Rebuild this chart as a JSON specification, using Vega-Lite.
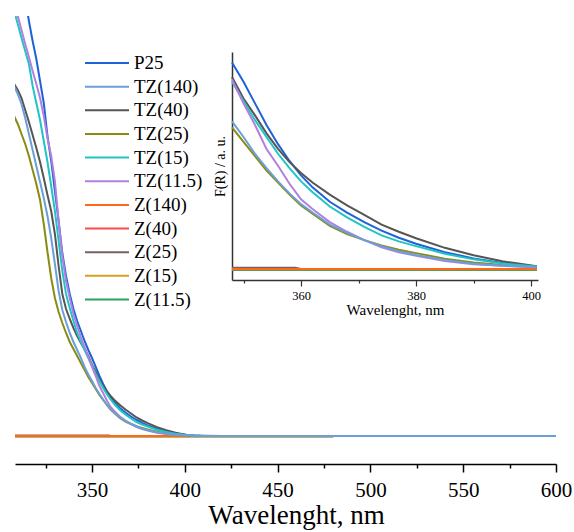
{
"$schema": "https://vega.github.io/schema/vega-lite/v6.json",
"width": 541, "height": 448,
"autosize": {"type": "none"},
"padding": {"left": 15, "top": 16, "right": 18, "bottom": 68},
"config": {
  "font": "Liberation Serif",
  "view": {"stroke": null},
  "axis": {"grid": false, "domainColor": "#000", "tickColor": "#000", "labelColor": "#000", "titleColor": "#000", "labelFont": "Liberation Serif", "titleFont": "Liberation Serif", "titleFontWeight": "normal"},
  "legend": {"labelFont": "Liberation Serif"}
},
"datasets": {"d": [
{"s":"Z(40)","wl":308,"v":-0.003},{"s":"Z(40)","wl":348,"v":-0.003},{"s":"Z(40)","wl":401,"v":-0.003},{"s":"Z(40)","wl":480,"v":-0.003},
{"s":"Z(25)","wl":308,"v":0.006},{"s":"Z(25)","wl":348,"v":0.005},{"s":"Z(25)","wl":359,"v":0.005},{"s":"Z(25)","wl":360,"v":0},{"s":"Z(25)","wl":401,"v":0},{"s":"Z(25)","wl":480,"v":0},
{"s":"Z(15)","wl":308,"v":-0.004},{"s":"Z(15)","wl":348,"v":-0.004},{"s":"Z(15)","wl":401,"v":-0.004},{"s":"Z(15)","wl":480,"v":-0.004},
{"s":"Z(11.5)","wl":308,"v":-0.003},{"s":"Z(11.5)","wl":348,"v":-0.003},{"s":"Z(11.5)","wl":401,"v":-0.003},{"s":"Z(11.5)","wl":480,"v":-0.003},
{"s":"Z(140)","wl":308,"v":0},{"s":"Z(140)","wl":348,"v":0},{"s":"Z(140)","wl":401,"v":0},{"s":"Z(140)","wl":480,"v":0},
{"s":"P25","wl":308,"v":5.1},{"s":"P25","wl":310,"v":4.85},{"s":"P25","wl":312,"v":4.6},{"s":"P25","wl":314,"v":4.37},{"s":"P25","wl":316,"v":4.15},{"s":"P25","wl":318,"v":3.95},{"s":"P25","wl":320,"v":3.77},{"s":"P25","wl":322,"v":3.55},{"s":"P25","wl":324,"v":3.33},{"s":"P25","wl":326,"v":3.0},{"s":"P25","wl":328,"v":2.75},{"s":"P25","wl":330,"v":2.45},{"s":"P25","wl":332,"v":2.15},{"s":"P25","wl":334,"v":1.83},{"s":"P25","wl":336,"v":1.6},{"s":"P25","wl":338,"v":1.42},{"s":"P25","wl":340,"v":1.27},{"s":"P25","wl":342,"v":1.15},{"s":"P25","wl":344,"v":1.05},{"s":"P25","wl":346,"v":0.95},{"s":"P25","wl":348,"v":0.86},{"s":"P25","wl":350,"v":0.78},{"s":"P25","wl":352,"v":0.69},{"s":"P25","wl":354,"v":0.6},{"s":"P25","wl":356,"v":0.52},{"s":"P25","wl":358,"v":0.45},{"s":"P25","wl":360,"v":0.39},{"s":"P25","wl":362,"v":0.34},{"s":"P25","wl":365,"v":0.28},{"s":"P25","wl":368,"v":0.235},{"s":"P25","wl":371,"v":0.195},{"s":"P25","wl":374,"v":0.16},{"s":"P25","wl":377,"v":0.13},{"s":"P25","wl":380,"v":0.105},{"s":"P25","wl":385,"v":0.07},{"s":"P25","wl":390,"v":0.044},{"s":"P25","wl":395,"v":0.025},{"s":"P25","wl":401,"v":0.009},{"s":"P25","wl":405,"v":0.004},{"s":"P25","wl":410,"v":0.001},{"s":"P25","wl":420,"v":0},{"s":"P25","wl":450,"v":0},
{"s":"TZ(40)","wl":308,"v":3.52},{"s":"TZ(40)","wl":310,"v":3.46},{"s":"TZ(40)","wl":312,"v":3.38},{"s":"TZ(40)","wl":314,"v":3.26},{"s":"TZ(40)","wl":316,"v":3.14},{"s":"TZ(40)","wl":318,"v":3.01},{"s":"TZ(40)","wl":320,"v":2.88},{"s":"TZ(40)","wl":322,"v":2.74},{"s":"TZ(40)","wl":324,"v":2.58},{"s":"TZ(40)","wl":326,"v":2.41},{"s":"TZ(40)","wl":328,"v":2.25},{"s":"TZ(40)","wl":330,"v":2.02},{"s":"TZ(40)","wl":332,"v":1.7},{"s":"TZ(40)","wl":334,"v":1.42},{"s":"TZ(40)","wl":336,"v":1.27},{"s":"TZ(40)","wl":338,"v":1.17},{"s":"TZ(40)","wl":340,"v":1.08},{"s":"TZ(40)","wl":342,"v":1.0},{"s":"TZ(40)","wl":344,"v":0.93},{"s":"TZ(40)","wl":346,"v":0.87},{"s":"TZ(40)","wl":348,"v":0.8},{"s":"TZ(40)","wl":350,"v":0.71},{"s":"TZ(40)","wl":352,"v":0.64},{"s":"TZ(40)","wl":354,"v":0.565},{"s":"TZ(40)","wl":356,"v":0.5},{"s":"TZ(40)","wl":358,"v":0.445},{"s":"TZ(40)","wl":360,"v":0.4},{"s":"TZ(40)","wl":362,"v":0.36},{"s":"TZ(40)","wl":365,"v":0.31},{"s":"TZ(40)","wl":368,"v":0.265},{"s":"TZ(40)","wl":371,"v":0.225},{"s":"TZ(40)","wl":374,"v":0.185},{"s":"TZ(40)","wl":377,"v":0.155},{"s":"TZ(40)","wl":380,"v":0.128},{"s":"TZ(40)","wl":385,"v":0.088},{"s":"TZ(40)","wl":390,"v":0.057},{"s":"TZ(40)","wl":395,"v":0.032},{"s":"TZ(40)","wl":401,"v":0.011},{"s":"TZ(40)","wl":405,"v":0.005},{"s":"TZ(40)","wl":410,"v":0.002},{"s":"TZ(40)","wl":420,"v":0},{"s":"TZ(40)","wl":450,"v":0},
{"s":"TZ(25)","wl":308,"v":3.2},{"s":"TZ(25)","wl":310,"v":3.12},{"s":"TZ(25)","wl":312,"v":3.02},{"s":"TZ(25)","wl":314,"v":2.92},{"s":"TZ(25)","wl":316,"v":2.8},{"s":"TZ(25)","wl":318,"v":2.66},{"s":"TZ(25)","wl":320,"v":2.52},{"s":"TZ(25)","wl":322,"v":2.36},{"s":"TZ(25)","wl":324,"v":2.12},{"s":"TZ(25)","wl":326,"v":1.84},{"s":"TZ(25)","wl":328,"v":1.58},{"s":"TZ(25)","wl":330,"v":1.38},{"s":"TZ(25)","wl":332,"v":1.24},{"s":"TZ(25)","wl":334,"v":1.13},{"s":"TZ(25)","wl":336,"v":1.03},{"s":"TZ(25)","wl":338,"v":0.94},{"s":"TZ(25)","wl":340,"v":0.87},{"s":"TZ(25)","wl":342,"v":0.8},{"s":"TZ(25)","wl":344,"v":0.73},{"s":"TZ(25)","wl":346,"v":0.66},{"s":"TZ(25)","wl":348,"v":0.59},{"s":"TZ(25)","wl":350,"v":0.53},{"s":"TZ(25)","wl":352,"v":0.47},{"s":"TZ(25)","wl":354,"v":0.41},{"s":"TZ(25)","wl":356,"v":0.36},{"s":"TZ(25)","wl":358,"v":0.31},{"s":"TZ(25)","wl":360,"v":0.265},{"s":"TZ(25)","wl":362,"v":0.23},{"s":"TZ(25)","wl":365,"v":0.18},{"s":"TZ(25)","wl":368,"v":0.145},{"s":"TZ(25)","wl":371,"v":0.12},{"s":"TZ(25)","wl":374,"v":0.098},{"s":"TZ(25)","wl":377,"v":0.08},{"s":"TZ(25)","wl":380,"v":0.066},{"s":"TZ(25)","wl":385,"v":0.043},{"s":"TZ(25)","wl":390,"v":0.027},{"s":"TZ(25)","wl":395,"v":0.016},{"s":"TZ(25)","wl":401,"v":0.008},{"s":"TZ(25)","wl":405,"v":0.003},{"s":"TZ(25)","wl":410,"v":0.001},{"s":"TZ(25)","wl":420,"v":0},{"s":"TZ(25)","wl":450,"v":0},
{"s":"TZ(15)","wl":308,"v":4.25},{"s":"TZ(15)","wl":310,"v":4.12},{"s":"TZ(15)","wl":312,"v":3.98},{"s":"TZ(15)","wl":314,"v":3.85},{"s":"TZ(15)","wl":316,"v":3.72},{"s":"TZ(15)","wl":318,"v":3.5},{"s":"TZ(15)","wl":320,"v":3.33},{"s":"TZ(15)","wl":322,"v":3.16},{"s":"TZ(15)","wl":324,"v":2.95},{"s":"TZ(15)","wl":326,"v":2.74},{"s":"TZ(15)","wl":328,"v":2.5},{"s":"TZ(15)","wl":330,"v":2.25},{"s":"TZ(15)","wl":332,"v":1.95},{"s":"TZ(15)","wl":334,"v":1.65},{"s":"TZ(15)","wl":336,"v":1.42},{"s":"TZ(15)","wl":338,"v":1.28},{"s":"TZ(15)","wl":340,"v":1.15},{"s":"TZ(15)","wl":342,"v":1.03},{"s":"TZ(15)","wl":344,"v":0.94},{"s":"TZ(15)","wl":346,"v":0.86},{"s":"TZ(15)","wl":348,"v":0.78},{"s":"TZ(15)","wl":350,"v":0.7},{"s":"TZ(15)","wl":352,"v":0.62},{"s":"TZ(15)","wl":354,"v":0.55},{"s":"TZ(15)","wl":356,"v":0.48},{"s":"TZ(15)","wl":358,"v":0.42},{"s":"TZ(15)","wl":360,"v":0.365},{"s":"TZ(15)","wl":362,"v":0.32},{"s":"TZ(15)","wl":365,"v":0.26},{"s":"TZ(15)","wl":368,"v":0.215},{"s":"TZ(15)","wl":371,"v":0.175},{"s":"TZ(15)","wl":374,"v":0.14},{"s":"TZ(15)","wl":377,"v":0.115},{"s":"TZ(15)","wl":380,"v":0.095},{"s":"TZ(15)","wl":385,"v":0.063},{"s":"TZ(15)","wl":390,"v":0.04},{"s":"TZ(15)","wl":395,"v":0.023},{"s":"TZ(15)","wl":401,"v":0.01},{"s":"TZ(15)","wl":405,"v":0.004},{"s":"TZ(15)","wl":410,"v":0.001},{"s":"TZ(15)","wl":420,"v":0},{"s":"TZ(15)","wl":550,"v":0},
{"s":"TZ(11.5)","wl":308,"v":4.45},{"s":"TZ(11.5)","wl":310,"v":4.2},{"s":"TZ(11.5)","wl":312,"v":4.06},{"s":"TZ(11.5)","wl":314,"v":3.92},{"s":"TZ(11.5)","wl":316,"v":3.79},{"s":"TZ(11.5)","wl":318,"v":3.65},{"s":"TZ(11.5)","wl":320,"v":3.52},{"s":"TZ(11.5)","wl":322,"v":3.38},{"s":"TZ(11.5)","wl":324,"v":3.2},{"s":"TZ(11.5)","wl":326,"v":2.98},{"s":"TZ(11.5)","wl":328,"v":2.8},{"s":"TZ(11.5)","wl":330,"v":2.55},{"s":"TZ(11.5)","wl":332,"v":2.15},{"s":"TZ(11.5)","wl":334,"v":1.8},{"s":"TZ(11.5)","wl":336,"v":1.55},{"s":"TZ(11.5)","wl":338,"v":1.38},{"s":"TZ(11.5)","wl":340,"v":1.22},{"s":"TZ(11.5)","wl":342,"v":1.1},{"s":"TZ(11.5)","wl":344,"v":0.99},{"s":"TZ(11.5)","wl":346,"v":0.89},{"s":"TZ(11.5)","wl":348,"v":0.79},{"s":"TZ(11.5)","wl":350,"v":0.69},{"s":"TZ(11.5)","wl":352,"v":0.6},{"s":"TZ(11.5)","wl":354,"v":0.5},{"s":"TZ(11.5)","wl":356,"v":0.43},{"s":"TZ(11.5)","wl":358,"v":0.355},{"s":"TZ(11.5)","wl":360,"v":0.29},{"s":"TZ(11.5)","wl":362,"v":0.25},{"s":"TZ(11.5)","wl":365,"v":0.195},{"s":"TZ(11.5)","wl":368,"v":0.155},{"s":"TZ(11.5)","wl":371,"v":0.12},{"s":"TZ(11.5)","wl":374,"v":0.09},{"s":"TZ(11.5)","wl":377,"v":0.07},{"s":"TZ(11.5)","wl":380,"v":0.055},{"s":"TZ(11.5)","wl":385,"v":0.033},{"s":"TZ(11.5)","wl":390,"v":0.02},{"s":"TZ(11.5)","wl":395,"v":0.013},{"s":"TZ(11.5)","wl":401,"v":0.007},{"s":"TZ(11.5)","wl":405,"v":0.003},{"s":"TZ(11.5)","wl":410,"v":0.001},{"s":"TZ(11.5)","wl":420,"v":0},{"s":"TZ(11.5)","wl":550,"v":0},
{"s":"TZ(140)","wl":308,"v":3.5},{"s":"TZ(140)","wl":310,"v":3.42},{"s":"TZ(140)","wl":312,"v":3.32},{"s":"TZ(140)","wl":314,"v":3.18},{"s":"TZ(140)","wl":316,"v":3.02},{"s":"TZ(140)","wl":318,"v":2.86},{"s":"TZ(140)","wl":320,"v":2.7},{"s":"TZ(140)","wl":322,"v":2.54},{"s":"TZ(140)","wl":324,"v":2.38},{"s":"TZ(140)","wl":326,"v":2.2},{"s":"TZ(140)","wl":328,"v":1.98},{"s":"TZ(140)","wl":330,"v":1.72},{"s":"TZ(140)","wl":332,"v":1.45},{"s":"TZ(140)","wl":334,"v":1.26},{"s":"TZ(140)","wl":336,"v":1.14},{"s":"TZ(140)","wl":338,"v":1.03},{"s":"TZ(140)","wl":340,"v":0.94},{"s":"TZ(140)","wl":342,"v":0.86},{"s":"TZ(140)","wl":344,"v":0.78},{"s":"TZ(140)","wl":346,"v":0.69},{"s":"TZ(140)","wl":348,"v":0.615},{"s":"TZ(140)","wl":350,"v":0.55},{"s":"TZ(140)","wl":352,"v":0.48},{"s":"TZ(140)","wl":354,"v":0.42},{"s":"TZ(140)","wl":356,"v":0.365},{"s":"TZ(140)","wl":358,"v":0.315},{"s":"TZ(140)","wl":360,"v":0.27},{"s":"TZ(140)","wl":362,"v":0.235},{"s":"TZ(140)","wl":365,"v":0.185},{"s":"TZ(140)","wl":368,"v":0.15},{"s":"TZ(140)","wl":371,"v":0.12},{"s":"TZ(140)","wl":374,"v":0.095},{"s":"TZ(140)","wl":377,"v":0.074},{"s":"TZ(140)","wl":380,"v":0.058},{"s":"TZ(140)","wl":385,"v":0.037},{"s":"TZ(140)","wl":390,"v":0.022},{"s":"TZ(140)","wl":395,"v":0.013},{"s":"TZ(140)","wl":401,"v":0.007},{"s":"TZ(140)","wl":405,"v":0.003},{"s":"TZ(140)","wl":410,"v":0.001},{"s":"TZ(140)","wl":420,"v":0},{"s":"TZ(140)","wl":600,"v":0}
]},
"layer": [
  {
    "data": {"name": "d"},
    "encoding": {
      "x": {"field": "wl", "type": "quantitative",
        "scale": {"domain": [308.5, 600], "nice": false, "zero": false},
        "axis": {"orient": "bottom", "values": [300,325,350,375,400,425,450,475,500,525,550,575,600],
          "labelExpr": "datum.value % 50 === 0 ? datum.label : ''",
          "tickSize": {"condition": {"test": "datum.value % 50 === 0", "value": 8}, "value": 4},
          "labelFont": "Liberation Serif", "titleFont": "Liberation Serif",
          "labelFontSize": 21, "labelPadding": 7, "labelFlush": false, "labelOverlap": false, "labelBound": false,
          "title": "Wavelenght, nm", "titleFontSize": 27, "titlePadding": 2, "titleX": 281,
          "domainWidth": 1.5, "tickWidth": 1.5}},
      "y": {"field": "v", "type": "quantitative", "scale": {"domain": [-0.28, 4.2], "nice": false, "zero": false}, "axis": null},
      "color": {"field": "s", "type": "nominal",
        "scale": {"domain": ["P25","TZ(140)","TZ(40)","TZ(25)","TZ(15)","TZ(11.5)","Z(140)","Z(40)","Z(25)","Z(15)","Z(11.5)"],
                  "range": ["#1f62d8","#6a9fd8","#555555","#8b8b14","#20c4c4","#b27fe0","#ff6818","#ff4a4a","#7a6060","#d4a020","#2ea060"]},
        "legend": {"orient": "none", "legendX": 69, "legendY": 37, "title": null, "symbolType": "stroke", "symbolSize": 1936, "symbolStrokeWidth": 2,
          "clipHeight": 20, "rowPadding": 3.65, "labelFontSize": 19, "labelFont": "Liberation Serif", "labelColor": "#000", "labelOffset": 4}}
    },
    "layer": [
      {"transform": [{"filter": "indexof(datum.s, 'Z(') === 0"}], "mark": {"type": "line", "clip": true, "strokeWidth": 2}},
      {"transform": [{"filter": "indexof(datum.s, 'Z(') !== 0"}], "mark": {"type": "line", "clip": true, "strokeWidth": 2}}
    ]
  },
  {
    "data": {"name": "d"},
    "transform": [{"filter": "datum.wl >= 348 && datum.wl <= 401"}],
    "encoding": {
      "x": {"field": "wl", "type": "quantitative",
        "scale": {"domain": [348, 401.2], "range": [217, 523], "nice": false, "zero": false},
        "axis": {"orient": "bottom", "offset": -184, "values": [350,360,370,380,390,400],
          "labelExpr": "datum.value % 20 === 0 ? datum.label : ''",
          "tickSize": {"condition": {"test": "datum.value % 20 === 0", "value": 6}, "value": 3},
          "labelFont": "Liberation Serif", "titleFont": "Liberation Serif",
          "labelFontSize": 12.5, "labelPadding": 3, "labelFlush": false, "labelOverlap": false,
          "title": "Wavelenght, nm", "titleFontSize": 15, "titlePadding": 1, "titleX": 380,
          "domainColor": "#333", "tickColor": "#333", "domainWidth": 1.5, "tickWidth": 1.2}},
      "y": {"field": "v", "type": "quantitative",
        "scale": {"domain": [-0.046, 0.904], "range": [264, 36], "nice": false, "zero": false},
        "axis": {"orient": "left", "offset": -217, "ticks": false, "labels": false, "title": "F(R) / a. u.", "titleFont": "Liberation Serif", "titleFontSize": 14, "titlePadding": 5,
          "domainColor": "#333", "domainWidth": 1.5}},
      "color": {"field": "s", "type": "nominal",
        "scale": {"domain": ["P25","TZ(140)","TZ(40)","TZ(25)","TZ(15)","TZ(11.5)","Z(140)","Z(40)","Z(25)","Z(15)","Z(11.5)"],
                  "range": ["#1f62d8","#6a9fd8","#555555","#8b8b14","#20c4c4","#b27fe0","#ff6818","#ff4a4a","#7a6060","#d4a020","#2ea060"]},
        "legend": {"orient": "none", "legendX": 69, "legendY": 37, "title": null, "symbolType": "stroke", "symbolSize": 1936, "symbolStrokeWidth": 2,
          "clipHeight": 20, "rowPadding": 3.65, "labelFontSize": 19, "labelFont": "Liberation Serif", "labelColor": "#000", "labelOffset": 4}}
    },
    "layer": [
      {"transform": [{"filter": "indexof(datum.s, 'Z(') === 0"}], "mark": {"type": "line", "strokeWidth": 2}},
      {"transform": [{"filter": "indexof(datum.s, 'Z(') !== 0"}], "mark": {"type": "line", "strokeWidth": 2}}
    ]
  }
],
"resolve": {"scale": {"x": "independent", "y": "independent"}}
}
